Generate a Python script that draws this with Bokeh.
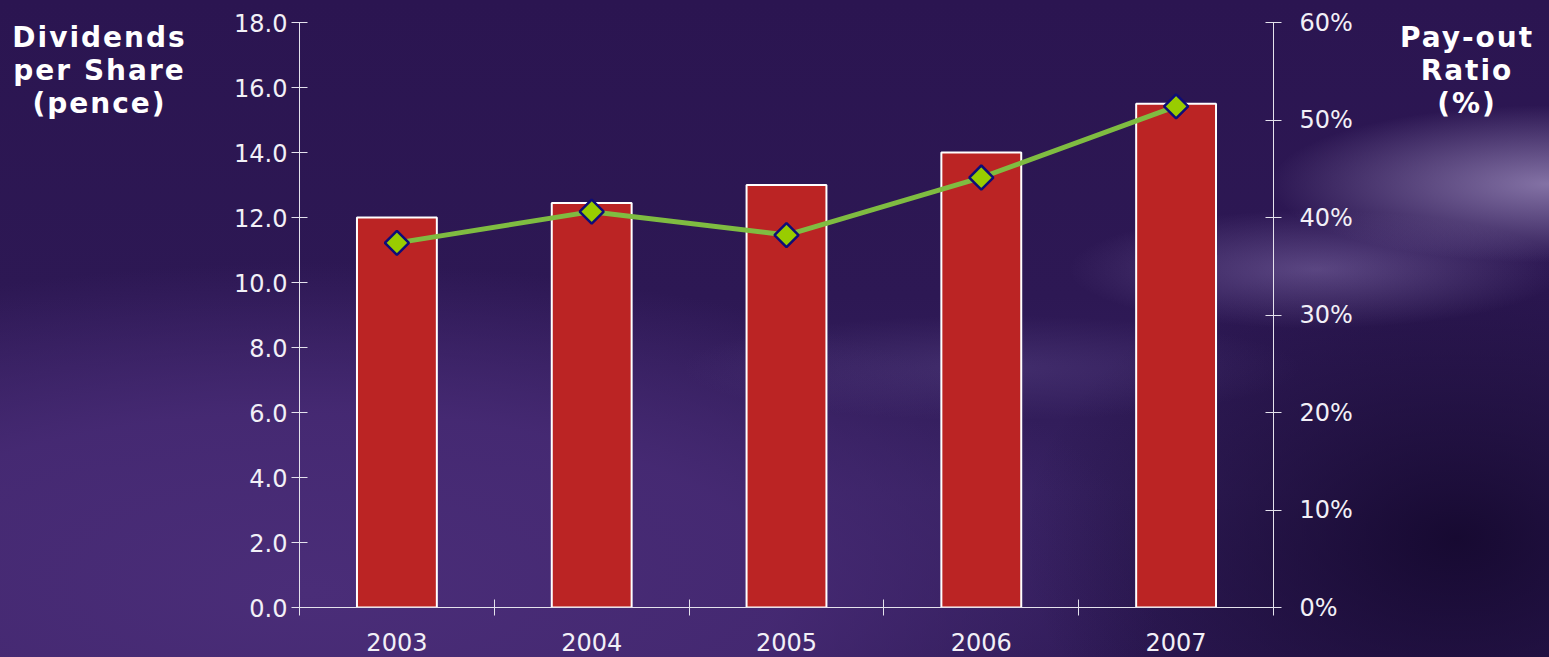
import numpy as np
from bokeh.plotting import figure
from bokeh.layouts import row
from bokeh.models import (Range1d, LinearAxis, FixedTicker, PrintfTickFormatter, Div)
from bokeh.embed import file_html
from bokeh.resources import INLINE

# ---- data ----
years = ["2003", "2004", "2005", "2006", "2007"]
dividends = [12.0, 12.45, 13.0, 14.0, 15.5]          # pence per share
payout = [37.4, 40.6, 38.2, 44.1, 51.4]              # pay-out ratio, %
left_ticks = [0, 2, 4, 6, 8, 10, 12, 14, 16, 18]
right_ticks = [0, 10, 20, 30, 40, 50, 60]
left_title = ["Dividends", "per Share", "(pence)"]
right_title = ["Pay-out", "Ratio", "(%)"]

idx = np.arange(len(years))
centers = (idx + 0.5).tolist()
bounds = np.arange(len(years) + 1).tolist()

TOTAL_W, TOTAL_H = 1549, 657
LEFT_DIV_W, RIGHT_DIV_W = 199, 176
PLOT_W = TOTAL_W - LEFT_DIV_W - RIGHT_DIV_W

BG = ("radial-gradient(ellipse 18% 12% at 100% 28%, rgba(190,175,220,0.60) 0%, rgba(190,175,220,0) 100%),"
      "radial-gradient(ellipse 16% 9% at 85% 41%, rgba(160,140,200,0.40) 0%, rgba(160,140,200,0) 100%),"
      "radial-gradient(ellipse 20% 8% at 64% 56%, rgba(120,100,170,0.25) 0%, rgba(120,100,170,0) 100%),"
      "radial-gradient(ellipse 28% 45% at 94% 82%, rgba(18,6,42,0.85) 0%, rgba(18,6,42,0) 100%),"
      "radial-gradient(ellipse 55% 50% at 20% 90%, rgba(74,45,120,1) 0%, rgba(72,43,118,0.85) 55%, rgba(70,42,116,0) 100%),"
      "linear-gradient(to bottom, #2b1551 0%, #2d1854 45%, #35205f 75%, #2e1a56 100%)")

p = figure(width=PLOT_W, height=TOTAL_H, frame_width=974, frame_height=585,
           x_range=Range1d(0, len(years)), y_range=Range1d(0, 18),
           output_backend="svg", toolbar_location=None,
           min_border_left=100, min_border_right=100, min_border_top=22, min_border_bottom=50,
           x_axis_type=None, y_axis_type=None, margin=0)
p.background_fill_alpha = 0
p.border_fill_alpha = 0
p.outline_line_color = None
p.grid.visible = False
p.extra_y_ranges = {"pct": Range1d(0, 60)}

AX = "#e4e2ec"
LAB = "#f2f0f7"
FONT = "DejaVu Sans"

xax = LinearAxis(ticker=FixedTicker(ticks=centers, minor_ticks=bounds),
                 major_label_overrides={c: y for c, y in zip(centers, years)})
xax.major_tick_line_color = None
xax.major_tick_in = 0
xax.major_tick_out = 0
xax.minor_tick_in = 8
xax.minor_tick_out = 8
xax.minor_tick_line_color = AX
xax.axis_line_color = AX
xax.major_label_standoff = 17
xax.major_label_text_font = FONT
xax.major_label_text_font_size = "24px"
xax.major_label_text_color = LAB
p.add_layout(xax, "below")

lax = LinearAxis(ticker=FixedTicker(ticks=left_ticks, minor_ticks=[]),
                 formatter=PrintfTickFormatter(format="%.1f"))
lax.major_tick_in = 8
lax.major_tick_out = 8
lax.major_tick_line_color = AX
lax.axis_line_color = AX
lax.minor_tick_line_color = None
lax.major_label_standoff = 4
lax.major_label_text_font = FONT
lax.major_label_text_font_size = "24px"
lax.major_label_text_color = LAB
p.add_layout(lax, "left")

rax = LinearAxis(y_range_name="pct", ticker=FixedTicker(ticks=right_ticks, minor_ticks=[]),
                 formatter=PrintfTickFormatter(format="%d%%"))
rax.major_tick_in = 8
rax.major_tick_out = 8
rax.major_tick_line_color = AX
rax.axis_line_color = AX
rax.minor_tick_line_color = None
rax.major_label_standoff = 18
rax.major_label_text_font = FONT
rax.major_label_text_font_size = "24px"
rax.major_label_text_color = LAB
p.add_layout(rax, "right")

p.vbar(x=centers, top=dividends, width=0.41, bottom=0,
       fill_color="#bb2424", line_color="#ffffff", line_width=2)

p.line(x=centers, y=payout, y_range_name="pct", line_color="#7fbc41", line_width=5)
p.scatter(x=centers, y=payout, y_range_name="pct", marker="square", angle=np.pi / 4,
          size=17, fill_color="#99cc00", line_color="#0d0d78", line_width=2.5)

TITLE_CSS = ("font-family:'DejaVu Sans';font-weight:bold;font-size:28px;line-height:33px;"
             "color:#ffffff;text-align:center;letter-spacing:2px;margin:21px 0 0 0;"
             "box-sizing:border-box;")
left_div = Div(text=f'<div style="{TITLE_CSS}width:{LEFT_DIV_W}px;">' + "<br>".join(left_title) + "</div>",
               width=LEFT_DIV_W, height=TOTAL_H, margin=0)
right_div = Div(text=f'<div style="{TITLE_CSS}width:{RIGHT_DIV_W}px;padding-left:12px;">'
                + "<br>".join(right_title) + "</div>",
                width=RIGHT_DIV_W, height=TOTAL_H, margin=0)

layout = row(left_div, p, right_div, spacing=0, margin=0,
             styles={"background": BG, "width": f"{TOTAL_W}px", "height": f"{TOTAL_H}px"})

open("out.html", "w").write(file_html(layout, INLINE))
